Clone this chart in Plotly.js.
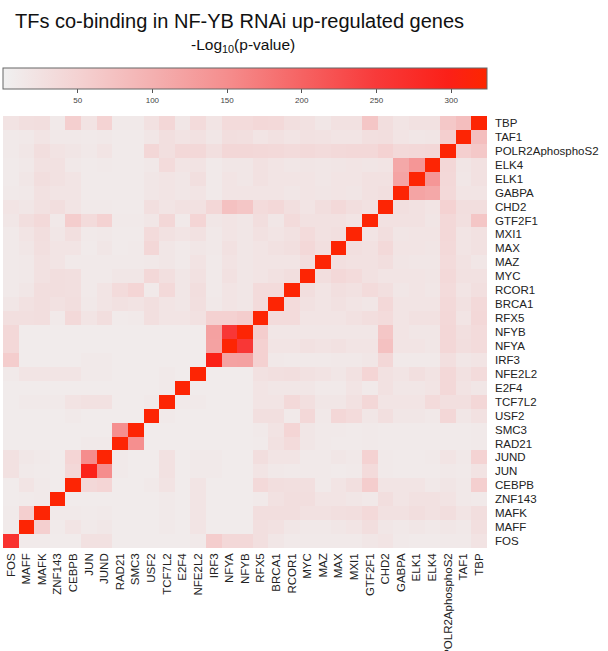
<!DOCTYPE html>
<html><head><meta charset="utf-8">
<script src="https://cdn.plot.ly/plotly-3.0.1.min.js"></script>
<style>html,body{margin:0;padding:0;background:#fff}#chart{width:608px;height:651px}</style>
</head><body><div id="chart"></div>
<script>
// Transcription factors (x order left->right, y order bottom->top)
const tfs = ['FOS','MAFF','MAFK','ZNF143','CEBPB','JUN','JUND','RAD21','SMC3','USF2','TCF7L2','E2F4','NFE2L2','IRF3','NFYA','NFYB','RFX5','BRCA1','RCOR1','MYC','MAZ','MAX','MXI1','GTF2F1','CHD2','GABPA','ELK1','ELK4','POLR2AphosphoS2','TAF1','TBP'];

// -Log10(p-value), lower triangle rows (each row ends with its diagonal value)
const r_FOS    = [265];
const r_MAFF   = [10, 320];
const r_MAFK   = [10, 55, 320];
const r_ZNF143 = [9, 10, 12, 320];
const r_CEBPB  = [9, 20, 12, 9, 320];
const r_JUN    = [25, 12, 10, 9, 40, 295];
const r_JUND   = [25, 15, 12, 9, 45, 150, 320];
const r_RAD21  = [8, 9, 9, 9, 9, 12, 12, 320];
const r_SMC3   = [8, 9, 9, 9, 9, 9, 9, 148, 320];
const r_USF2   = [8, 9, 9, 9, 12, 9, 9, 8, 8, 320];
const r_TCF7L2 = [9, 12, 12, 12, 22, 25, 25, 9, 9, 12, 320];
const r_E2F4   = [9, 9, 9, 9, 9, 9, 9, 9, 9, 9, 12, 320];
const r_NFE2L2 = [12, 20, 20, 20, 20, 12, 12, 9, 9, 9, 12, 9, 320];
const r_IRF3   = [58, 9, 9, 9, 9, 12, 12, 9, 9, 9, 9, 9, 9, 300];
const r_NFYA   = [40, 9, 9, 9, 9, 9, 9, 9, 9, 9, 9, 9, 9, 120, 320];
const r_NFYB   = [40, 9, 9, 9, 9, 9, 9, 9, 9, 9, 9, 9, 9, 122, 255, 320];
const r_RFX5   = [28, 28, 30, 12, 38, 20, 30, 10, 12, 28, 20, 20, 25, 52, 52, 58, 320];
const r_BRCA1  = [16, 25, 30, 25, 30, 14, 20, 25, 22, 28, 20, 17, 28, 14, 20, 17, 35, 320];
const r_RCOR1  = [11, 17, 30, 30, 28, 12, 20, 35, 45, 12, 38, 16, 30, 12, 20, 17, 35, 35, 320];
const r_MYC    = [11, 14, 25, 30, 28, 11, 12, 16, 17, 40, 28, 17, 25, 12, 25, 17, 20, 25, 30, 320];
const r_MAZ    = [11, 14, 25, 20, 12, 11, 11, 12, 12, 14, 17, 12, 22, 12, 22, 16, 20, 20, 20, 30, 320];
const r_MAX    = [11, 16, 28, 20, 20, 10, 16, 10, 11, 42, 17, 12, 16, 14, 25, 17, 20, 25, 28, 40, 28, 320];
const r_MXI1   = [11, 20, 30, 16, 28, 11, 14, 10, 10, 35, 25, 20, 25, 14, 20, 17, 25, 20, 25, 35, 25, 28, 320];
const r_GTF2F1 = [16, 30, 38, 14, 58, 35, 50, 11, 12, 17, 42, 12, 45, 16, 20, 17, 30, 16, 35, 25, 25, 25, 20, 320];
const r_CHD2   = [20, 16, 25, 30, 20, 12, 12, 10, 10, 28, 20, 25, 25, 42, 75, 68, 35, 40, 28, 20, 30, 38, 30, 25, 320];
const r_GABPA  = [11, 14, 25, 20, 20, 10, 10, 10, 10, 16, 20, 17, 20, 12, 20, 20, 20, 20, 17, 20, 18, 20, 18, 25, 28, 320];
const r_ELK1   = [10, 16, 30, 25, 20, 10, 10, 10, 10, 16, 20, 17, 28, 12, 20, 17, 25, 20, 20, 20, 17, 20, 20, 25, 25, 118, 320];
const r_ELK4   = [10, 14, 25, 25, 14, 10, 12, 10, 10, 14, 35, 20, 22, 11, 17, 16, 25, 20, 17, 18, 16, 18, 20, 18, 20, 112, 138, 320];
const r_POLR2  = [12, 17, 30, 22, 18, 14, 20, 10, 10, 42, 28, 40, 40, 28, 42, 42, 40, 38, 35, 38, 35, 38, 40, 40, 50, 38, 40, 42, 320];
const r_TAF1   = [11, 14, 20, 14, 14, 11, 14, 10, 10, 17, 28, 22, 25, 17, 30, 28, 20, 25, 20, 25, 23, 20, 20, 28, 30, 20, 17, 18, 55, 320];
const r_TBP    = [22, 28, 30, 12, 55, 22, 48, 11, 12, 25, 42, 16, 35, 20, 35, 35, 40, 38, 28, 25, 16, 25, 25, 68, 30, 20, 25, 25, 65, 80, 320];

const colorTicks = [50, 100, 150, 200, 250, 300];

const lower = [r_FOS, r_MAFF, r_MAFK, r_ZNF143, r_CEBPB, r_JUN, r_JUND, r_RAD21, r_SMC3, r_USF2, r_TCF7L2, r_E2F4, r_NFE2L2, r_IRF3, r_NFYA, r_NFYB, r_RFX5, r_BRCA1, r_RCOR1, r_MYC, r_MAZ, r_MAX, r_MXI1, r_GTF2F1, r_CHD2, r_GABPA, r_ELK1, r_ELK4, r_POLR2, r_TAF1, r_TBP];
const n = tfs.length;
const z = [];
for (let i = 0; i < n; i++) {
  const row = [];
  for (let j = 0; j < n; j++) row.push(i >= j ? lower[i][j] : lower[j][i]);
  z.push(row);
}

const font = 'Liberation Sans, Arial, sans-serif';
const trace = {
  type: 'heatmap', x: tfs, y: tfs, z: z,
  zmin: 0, zmax: 324,
  colorscale: [[0, '#f0f0f0'], [0.155, '#f4d2d2'], [0.31, '#f4b0b0'], [0.46, '#f58e8e'],
               [0.62, '#f66262'], [0.77, '#f83a3a'], [0.92, '#fb2018'], [1, '#fd2600']],
  xgap: 0, ygap: 0,
  colorbar: {
    orientation: 'h', x: 0.5, xanchor: 'center', len: 1, lenmode: 'fraction',
    y: (548-68)/432, yanchor: 'top', thickness: 21, xpad: 0, ypad: 0,
    outlinewidth: 1, outlinecolor: '#666',
    tickvals: colorTicks, ticks: 'outside', ticklen: 4, tickcolor: '#555',
    tickfont: {family: font, size: 8, color: '#444'}
  }
};
const layout = {
  width: 608, height: 651,
  margin: {l: 3, r: 121, t: 116, b: 103, pad: 0},
  paper_bgcolor: '#fff', plot_bgcolor: '#fff',
  title: {text: 'TFs co-binding in NF-YB RNAi up-regulated genes', x: 15/608, xanchor: 'left', xref: 'container',
          y: 1 - 21/651, yanchor: 'middle', yref: 'container', font: {family: font, size: 20, color: '#111'}},
  xaxis: {type: 'category', tickangle: -90, showgrid: false, zeroline: false, showline: false, ticks: '',
          tickmode: 'array', tickvals: tfs, ticktext: tfs, ticklabelstandoff: 2,
          tickfont: {family: font, size: 11.5, color: '#222'}, automargin: false},
  yaxis: {type: 'category', side: 'right', showgrid: false, zeroline: false, showline: false, ticks: '',
          tickmode: 'array', tickvals: tfs, ticktext: tfs, ticklabelstandoff: 7,
          tickfont: {family: font, size: 11.5, color: '#222'}, automargin: false},
  annotations: [{text: '-Log<sub>10</sub>(p-value)', xref: 'paper', yref: 'paper', x: (243-3)/484, y: (548-45)/432,
                 xanchor: 'center', yanchor: 'middle', showarrow: false, font: {family: font, size: 15.5, color: '#111'}}]
};
Plotly.newPlot('chart', [trace], layout, {displayModeBar: false, staticPlot: true});
</script></body></html>
